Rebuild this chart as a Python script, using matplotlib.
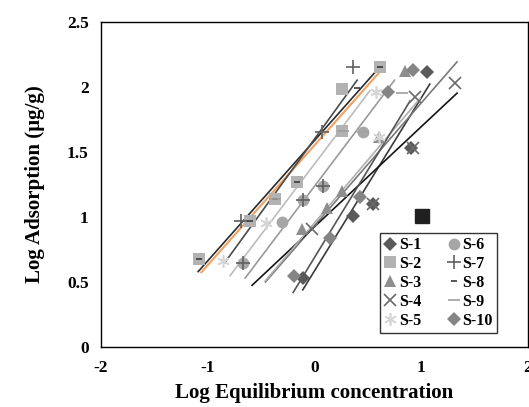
import matplotlib
matplotlib.use("Agg")
import matplotlib.pyplot as plt

plt.rcParams['font.family'] = ['Liberation Serif', 'DejaVu Serif']
plt.rcParams['font.weight'] = 'bold'

# ---------- data (log Ce, log qe) ----------
labels = ['S-1', 'S-2', 'S-3', 'S-4', 'S-5', 'S-6', 'S-7', 'S-8', 'S-9', 'S-10']

s1_x = [-0.11, 0.36, 0.55, 0.90, 1.05]
s1_y = [0.53, 1.01, 1.10, 1.53, 2.11]
s2_x = [-1.08, -0.60, -0.37, -0.16, 0.26, 0.26, 0.61]
s2_y = [0.675, 0.97, 1.14, 1.27, 1.66, 1.98, 2.15]
s3_x = [-0.12, 0.12, 0.26, 0.60, 0.85]
s3_y = [0.91, 1.07, 1.20, 1.61, 2.12]
s4_x = [-0.02, 0.55, 0.92, 0.94, 1.32]
s4_y = [0.91, 1.10, 1.53, 1.92, 2.03]
s5_x = [-0.86, -0.45, 0.58, 0.60]
s5_y = [0.66, 0.95, 1.96, 1.61]
s6_x = [-0.67, -0.30, -0.11, 0.08, 0.45]
s6_y = [0.65, 0.96, 1.13, 1.24, 1.65]
s7_x = [-0.67, -0.69, -0.11, 0.08, 0.07, 0.36]
s7_y = [0.65, 0.97, 1.13, 1.24, 1.65, 2.15]
s8_x = [-1.08, -0.60, -0.37, -0.16, 0.40, 0.61]
s8_y = [0.675, 0.97, 1.14, 1.27, 1.99, 2.15]
s9_x = [-0.37, 0.27, 0.45, 0.82]
s9_y = [1.14, 1.66, 1.65, 1.95]
s10_x = [-0.19, 0.15, 0.43, 0.69, 0.92]
s10_y = [0.55, 0.84, 1.15, 1.96, 2.13]

xs = [s1_x, s2_x, s3_x, s4_x, s5_x, s6_x, s7_x, s8_x, s9_x, s10_x]
ys = [s1_y, s2_y, s3_y, s4_y, s5_y, s6_y, s7_y, s8_y, s9_y, s10_y]

# trend lines: (x start, y start, x end, y end)
trend_x0 = [-0.11, -1.09, -0.46, -0.585, -0.79, -0.65, -0.84, -1.06, -0.46, -0.20]
trend_y0 = [0.44, 0.58, 0.50, 0.475, 0.55, 0.53, 0.65, 0.575, 0.51, 0.42]
trend_x1 = [1.08, 0.61, 1.335, 1.335, 0.52, 0.75, 0.40, 0.64, 0.99, 0.895]
trend_y1 = [2.02, 2.15, 2.19, 1.95, 1.97, 2.05, 2.05, 2.14, 1.91, 1.89]

# stray point
odd_x = [1.01]
odd_y = [1.005]

# ---------- styles ----------
markers = ['D', 's', '^', 'x', (6, 2, 0), 'o', '+', '_', '_', 'D']
msizes = [7, 8.5, 8, 9, 9, 8.5, 10, 5, 8, 7]
mcolors = ['#5a5a5a', '#b2b2b2', '#8e8e8e', '#6a6a6a', '#d6d6d6',
           '#a6a6a6', '#606060', '#3a3a3a', '#a0a0a0', '#858585']
lcolors = ['#3a3a3a', '#2a2a2a', '#7a7a7a', '#151515', '#bdbdbd',
           '#9a9a9a', '#4a4a4a', '#f0a060', '#b0b0b0', '#555555']

fig = plt.figure(figsize=(5.29, 4.07), dpi=100)
ax = fig.add_axes([0.191, 0.147, 0.807, 0.80])

for i in range(10):
    ax.plot([trend_x0[i], trend_x1[i]], [trend_y0[i], trend_y1[i]],
            color=lcolors[i], lw=1.5 if i == 7 else 1.2, zorder=2 if i == 7 else 3)

for i in range(10):
    mew = 1.2 if markers[i] in ('x', '+', '_') or isinstance(markers[i], tuple) else 0
    ax.plot(xs[i], ys[i], ls='none', marker=markers[i], ms=msizes[i],
            color=mcolors[i], mec=mcolors[i], mew=mew, label=labels[i], zorder=4)

ax.plot(odd_x, odd_y, ls='none', marker='s', ms=10, color='#202020', zorder=5)

ax.set_xlim(-2, 2)
ax.set_ylim(0, 2.5)
ax.set_xticks([-2, -1, 0, 1, 2])
ax.set_xticklabels(['-2', '-1', '0', '1', '2'])
ax.set_yticks([0, 0.5, 1, 1.5, 2, 2.5])
ax.set_yticklabels(['0', '0.5', '1', '1.5', '2', '2.5'])
ax.tick_params(length=0, labelsize=12.5, pad=9)
for sp in ax.spines.values():
    sp.set_linewidth(1.0)
    sp.set_color('black')

ax.set_xlabel('Log Equilibrium concentration', fontsize=15, fontweight='bold', labelpad=5)
ax.set_ylabel('Log Adsorption (µg/g)', fontsize=15, fontweight='bold', labelpad=16)

leg = ax.legend(ncol=2, loc='lower left', bbox_to_anchor=(0.635, 0.02),
                frameon=True, fancybox=False, edgecolor='black',
                handlelength=0.8, handletextpad=0.15, columnspacing=1.6,
                labelspacing=0.18, borderpad=0.25, prop={'weight': 'bold', 'size': 11.5})
leg.get_frame().set_linewidth(1.0)

fig.savefig('out.png', dpi=100)
